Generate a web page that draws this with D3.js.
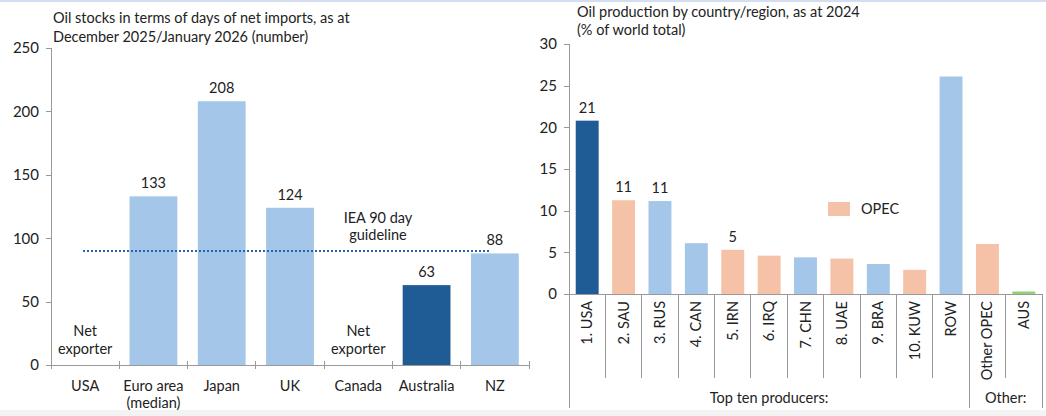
<!DOCTYPE html>
<html lang="en">
<head>
    <meta charset="UTF-8">
    <title>Oil stocks and production</title>
    <script src="https://cdn.jsdelivr.net/npm/d3@7"></script>
    <style>
        html, body {
            margin: 0;
            padding: 0;
            width: 100%;
            height: 100%;
            overflow: hidden;
            background: #fff;
        }
        svg text {
            font-family: Lato, 'Open Sans', sans-serif;
            fill: #222;
        }
        .axis line, .axis path {
            stroke: #999;
            stroke-width: 1px;
            shape-rendering: crispEdges;
        }
    </style>
</head>
<body>
</body>
<script>
    // left panel: days of net imports
    const stockCats = ['USA', 'Euro area|(median)', 'Japan', 'UK', 'Canada', 'Australia', 'NZ'];
    const stockVals = [null, 133, 208, 124, null, 63, 88];
    const stockHighlight = ['Australia'];
    const stockTicks = [0, 50, 100, 150, 200, 250];
    const ieaGuideline = 90;

    // right panel: production share of world total
    const prodCats = ['1. USA', '2. SAU', '3. RUS', '4. CAN', '5. IRN', '6. IRQ', '7. CHN', '8. UAE',
        '9. BRA', '10. KUW', 'ROW', 'Other OPEC', 'AUS'];
    const prodVals = [20.8, 11.25, 11.15, 6.1, 5.3, 4.6, 4.4, 4.25, 3.6, 2.9, 26.1, 6.0, 0.3];
    const prodType = ['us', 'opec', 'other', 'other', 'opec', 'opec', 'other', 'opec', 'other', 'opec',
        'other', 'opec', 'aus'];
    const prodLabels = [21, 11, 11, null, 5, null, null, null, null, null, null, null, null];
    const prodTicks = [0, 5, 10, 15, 20, 25, 30];
    const prodGroups = [
        {label: 'Top ten producers:', from: 0, to: 10},
        {label: 'Other:', from: 11, to: 12}
    ];

    const colors = {
        light: '#a4c6e8',
        dark: '#1f5b94',
        opec: '#f5c2a7',
        aus: '#93d07a'
    };

    let svg = d3.select('body').append('svg')
        .attr('width', 1046)
        .attr('height', 416);

    // faint frame bits from the source slide
    svg.append('rect').attr('x', 0).attr('y', 0).attr('width', 1046).attr('height', 2).attr('fill', '#d3dff0');
    svg.append('rect').attr('x', 0).attr('y', 410).attr('width', 1046).attr('height', 6).attr('fill', '#f3f3f3');

    // ---------- left chart ----------
    let xL = d3.scaleBand().domain(stockCats).range([51, 529]).paddingInner(0.3).paddingOuter(0.15);
    let yL = d3.scaleLinear().domain([0, 250]).range([365, 48]);

    let gL = svg.append('g');

    gL.append('text').attr('x', 53).attr('y', 23).attr('font-size', 14.5)
        .text('Oil stocks in terms of days of net imports, as at');
    gL.append('text').attr('x', 53).attr('y', 42).attr('font-size', 14.5)
        .text('December 2025/January 2026 (number)');

    gL.append('g').classed('axis', true)
        .attr('transform', 'translate(51,0)')
        .call(d3.axisLeft(yL).tickValues(stockTicks).tickSize(5).tickPadding(7))
        .call(g => g.selectAll('text').attr('font-size', 15))
        .call(g => g.select('.domain').attr('d', `M0,${yL(250)}V${yL(0)}`));

    gL.selectAll('.bar')
        .data(stockCats.map((c, i) => ({c, v: stockVals[i]})).filter(d => d.v != null))
        .enter().append('rect')
        .attr('x', d => xL(d.c))
        .attr('width', xL.bandwidth())
        .attr('y', d => yL(d.v))
        .attr('height', d => yL(0) - yL(d.v))
        .attr('fill', d => stockHighlight.includes(d.c) ? colors.dark : colors.light);

    gL.selectAll('.val')
        .data(stockCats.map((c, i) => ({c, v: stockVals[i]})).filter(d => d.v != null))
        .enter().append('text')
        .attr('x', d => xL(d.c) + xL.bandwidth() / 2)
        .attr('y', d => yL(d.v) - 8)
        .attr('text-anchor', 'middle')
        .attr('font-size', 14.5)
        .text(d => d.v);

    // net exporter notes
    stockCats.forEach((c, i) => {
        if (stockVals[i] == null) {
            let cx = xL(c) + xL.bandwidth() / 2;
            gL.append('text').attr('x', cx).attr('y', 336).attr('text-anchor', 'middle')
                .attr('font-size', 14.5).text('Net');
            gL.append('text').attr('x', cx).attr('y', 354).attr('text-anchor', 'middle')
                .attr('font-size', 14.5).text('exporter');
        }
    });

    // x axis
    let axL = gL.append('g').classed('axis', true);
    axL.append('line').attr('x1', 51).attr('x2', 529).attr('y1', yL(0)).attr('y2', yL(0));
    let bounds = stockCats.map(c => xL(c) - xL.step() * xL.paddingInner() / 2);
    bounds.push(529);
    axL.selectAll('.tk').data(bounds).enter().append('line')
        .attr('x1', d => d).attr('x2', d => d)
        .attr('y1', yL(0) - 4).attr('y2', yL(0) + 4);

    gL.selectAll('.cat')
        .data(stockCats)
        .enter().append('text')
        .attr('text-anchor', 'middle')
        .attr('font-size', 14.5)
        .attr('transform', d => `translate(${xL(d) + xL.bandwidth() / 2},391)`)
        .each(function (d) {
            d.split('|').forEach((line, k) => {
                d3.select(this).append('tspan').attr('x', 0).attr('dy', k === 0 ? 0 : 17).text(line);
            });
        });

    // IEA guideline
    gL.append('line')
        .attr('x1', 83).attr('x2', 489)
        .attr('y1', yL(ieaGuideline)).attr('y2', yL(ieaGuideline))
        .attr('stroke', '#2b63a8')
        .attr('stroke-width', 2)
        .attr('stroke-dasharray', '2,2');
    gL.append('text').attr('x', 378).attr('y', 223).attr('text-anchor', 'middle')
        .attr('font-size', 14.5).text('IEA 90 day');
    gL.append('text').attr('x', 378).attr('y', 240).attr('text-anchor', 'middle')
        .attr('font-size', 14.5).text('guideline');

    // ---------- right chart ----------
    let xR = d3.scaleBand().domain(prodCats).range([569, 1042]).paddingInner(0.37).paddingOuter(0.185);
    let yR = d3.scaleLinear().domain([0, 30]).range([294, 44]);

    let gR = svg.append('g');

    gR.append('text').attr('x', 577).attr('y', 17).attr('font-size', 14.5)
        .text('Oil production by country/region, as at 2024');
    gR.append('text').attr('x', 577).attr('y', 35).attr('font-size', 14.5)
        .text('(% of world total)');

    gR.append('g').classed('axis', true)
        .attr('transform', 'translate(569,0)')
        .call(d3.axisLeft(yR).tickValues(prodTicks).tickSize(5).tickPadding(7))
        .call(g => g.selectAll('text').attr('font-size', 15))
        .call(g => g.select('.domain').attr('d', `M0,${yR(30)}V${yR(0)}`));

    let prodData = prodCats.map((c, i) => ({c, v: prodVals[i], t: prodType[i], l: prodLabels[i]}));
    let prodColor = t => t === 'us' ? colors.dark : t === 'opec' ? colors.opec : t === 'aus' ? colors.aus : colors.light;

    gR.selectAll('.bar')
        .data(prodData)
        .enter().append('rect')
        .attr('x', d => xR(d.c))
        .attr('width', xR.bandwidth())
        .attr('y', d => yR(d.v))
        .attr('height', d => yR(0) - yR(d.v))
        .attr('fill', d => prodColor(d.t));

    gR.selectAll('.val')
        .data(prodData.filter(d => d.l != null))
        .enter().append('text')
        .attr('x', d => xR(d.c) + xR.bandwidth() / 2)
        .attr('y', d => yR(d.v) - 8)
        .attr('text-anchor', 'middle')
        .attr('font-size', 14.5)
        .text(d => d.l);

    // x axis with category separators and group brackets
    let axR = gR.append('g').classed('axis', true);
    axR.append('line').attr('x1', 569).attr('x2', 1042).attr('y1', yR(0)).attr('y2', yR(0));
    let sepR = prodCats.map(c => xR(c) - xR.step() * xR.paddingInner() / 2);
    sepR.push(1042);
    let groupEdges = [0, 11, 13];
    axR.selectAll('.sep').data(sepR).enter().append('line')
        .attr('x1', d => d).attr('x2', d => d)
        .attr('y1', yR(0))
        .attr('y2', (d, i) => groupEdges.includes(i) ? 408 : 378);

    gR.selectAll('.cat')
        .data(prodCats)
        .enter().append('text')
        .attr('text-anchor', 'end')
        .attr('font-size', 14.5)
        .attr('transform', d => `translate(${xR(d) + xR.bandwidth() / 2 + 5},301) rotate(-90)`)
        .text(d => d);

    gR.selectAll('.grp')
        .data(prodGroups)
        .enter().append('text')
        .attr('text-anchor', 'middle')
        .attr('font-size', 14.5)
        .attr('x', d => (sepR[d.from] + sepR[d.to + 1]) / 2)
        .attr('y', 403)
        .text(d => d.label);

    // legend
    gR.append('rect').attr('x', 828).attr('y', 202).attr('width', 22).attr('height', 14).attr('fill', colors.opec);
    gR.append('text').attr('x', 861).attr('y', 214).attr('font-size', 14.5).text('OPEC');
</script>
</html>
